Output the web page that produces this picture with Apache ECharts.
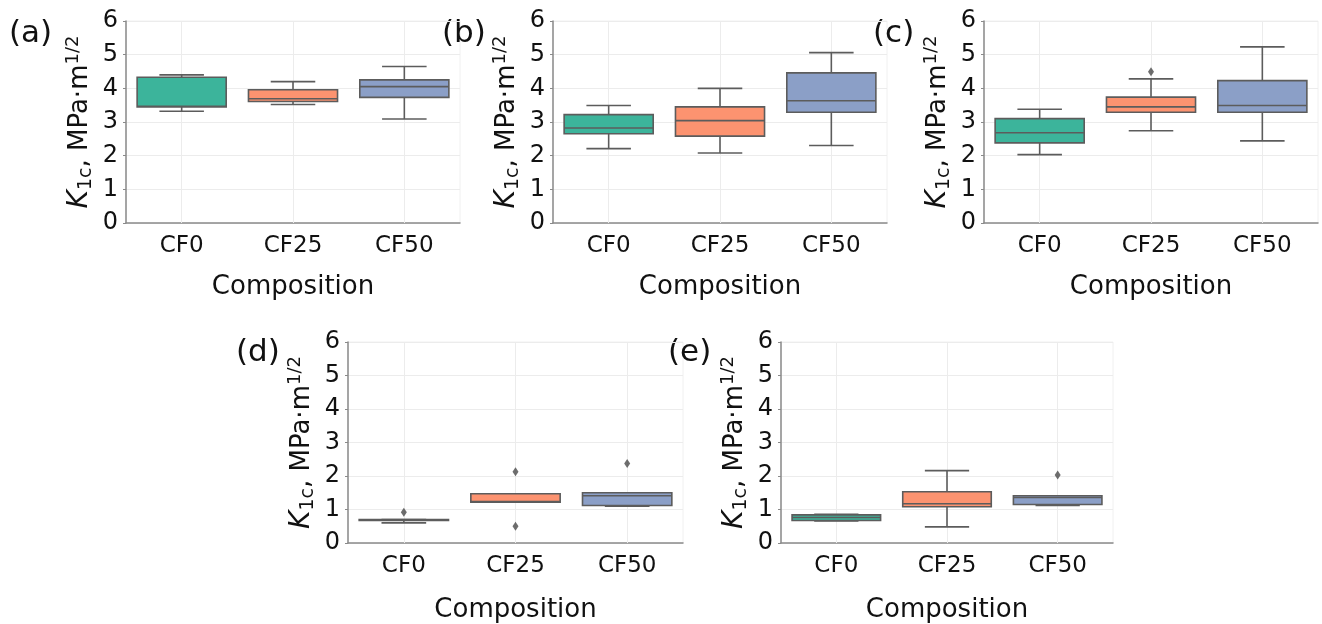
<!DOCTYPE html>
<html>
<head>
<meta charset="utf-8">
<script src="https://cdn.jsdelivr.net/npm/echarts@6/dist/echarts.min.js"></script>
<style>
  html, body { margin: 0; padding: 0; background: #fff; }
  #chart { width: 1322px; height: 624px; }
</style>
</head>
<body>
<div id="chart"></div>
<script>
// categories on every panel
const categories = ['CF0', 'CF25', 'CF50'];
const yTicks = [0, 1, 2, 3, 4, 5, 6];

// box stats per category: [low whisker, Q1, median, Q3, high whisker]
const boxA = [[3.32, 3.45, 3.47, 4.33, 4.40], [3.52, 3.61, 3.69, 3.96, 4.20], [3.09, 3.73, 4.05, 4.25, 4.65]];
const boxB = [[2.21, 2.65, 2.82, 3.22, 3.49], [2.08, 2.58, 3.04, 3.45, 4.00], [2.30, 3.29, 3.63, 4.46, 5.06]];
const boxC = [[2.03, 2.38, 2.68, 3.10, 3.38], [2.74, 3.29, 3.45, 3.74, 4.28], [2.44, 3.29, 3.49, 4.23, 5.23]];
const boxD = [[0.60, 0.67, 0.68, 0.70, 0.70], [1.22, 1.22, 1.24, 1.47, 1.47], [1.10, 1.12, 1.41, 1.50, 1.50]];
const boxE = [[0.66, 0.67, 0.76, 0.84, 0.86], [0.48, 1.08, 1.17, 1.53, 2.16], [1.12, 1.15, 1.36, 1.41, 1.41]];

// outliers: [category index, value]
const fliersA = [];
const fliersB = [];
const fliersC = [[1, 4.49]];
const fliersD = [[0, 0.92], [1, 2.13], [1, 0.50], [2, 2.37]];
const fliersE = [[2, 2.03]];

const panelNames = ['(a)', '(b)', '(c)', '(d)', '(e)'];
const boxColors = ['#3cb49b', '#fc9370', '#8b9fc7'];
const edge = '#5c5c5c';
const font = 'DejaVu Sans';

const boxes = [boxA, boxB, boxC, boxD, boxE];
const fliers = [fliersA, fliersB, fliersC, fliersD, fliersE];

// panel layout
const grids = [
  { left: 126, top: 21, width: 334, height: 202 },
  { left: 553, top: 21, width: 334, height: 202 },
  { left: 984, top: 21, width: 334, height: 202 },
  { left: 348, top: 342, width: 335, height: 201 },
  { left: 781, top: 342, width: 332, height: 201 }
];
const labelPos = [[9, 37], [442, 37], [873, 37], [236, 356], [668, 356]];

function renderBox(params, api) {
  const i = api.value(0);
  const low = api.coord([i, api.value(1)]);
  const q1 = api.coord([i, api.value(2)]);
  const med = api.coord([i, api.value(3)]);
  const q3 = api.coord([i, api.value(4)]);
  const high = api.coord([i, api.value(5)]);
  const band = api.size([1, 0])[0];
  const bw = band * 0.8, cw = bw * 0.5;
  const x = low[0];
  const ls = { stroke: edge, lineWidth: 1.6, fill: null };
  return {
    type: 'group',
    children: [
      { type: 'line', shape: { x1: x, y1: q3[1], x2: x, y2: high[1] }, style: ls },
      { type: 'line', shape: { x1: x, y1: q1[1], x2: x, y2: low[1] }, style: ls },
      { type: 'line', shape: { x1: x - cw / 2, y1: high[1], x2: x + cw / 2, y2: high[1] }, style: ls },
      { type: 'line', shape: { x1: x - cw / 2, y1: low[1], x2: x + cw / 2, y2: low[1] }, style: ls },
      { type: 'rect', shape: { x: x - bw / 2, y: q3[1], width: bw, height: Math.max(q1[1] - q3[1], 1) },
        style: { fill: boxColors[i], stroke: edge, lineWidth: 1.6 } },
      { type: 'line', shape: { x1: x - bw / 2, y1: med[1], x2: x + bw / 2, y2: med[1] }, style: ls }
    ]
  };
}

const option = {
  animation: false,
  backgroundColor: '#fff',
  textStyle: { fontFamily: font },
  grid: grids.map(g => Object.assign({ show: true, borderColor: '#f0f0f0', borderWidth: 1 }, g)),
  xAxis: grids.map((g, k) => ({
    type: 'category',
    gridIndex: k,
    data: categories,
    name: 'Composition',
    nameLocation: 'middle',
    nameGap: k < 3 ? 51 : 54,
    nameTextStyle: { fontSize: 26, color: '#111', fontFamily: font },
    axisLine: { lineStyle: { color: '#8a8a8a', width: 1.5 } },
    axisTick: { alignWithLabel: true, length: 4, lineStyle: { color: '#8a8a8a' } },
    axisLabel: { fontSize: 23, color: '#111', margin: 12, fontFamily: font },
    splitLine: { show: false }
  })),
  yAxis: grids.map((g, k) => ({
    type: 'value',
    gridIndex: k,
    min: 0, max: 6, interval: 1,
    name: '{k|K}{sub|1c}{t|, MPa·m}{sup|1/2}',
    nameLocation: 'middle',
    nameRotate: 90,
    nameGap: 30,
    nameTextStyle: {
      rich: {
        k: { fontSize: 28, fontStyle: 'italic', color: '#111', fontFamily: font, lineHeight: 32 },
        sub: { fontSize: 19, color: '#111', fontFamily: font, verticalAlign: 'bottom', lineHeight: 18 },
        t: { fontSize: 26, color: '#111', fontFamily: font, lineHeight: 32 },
        sup: { fontSize: 18, color: '#111', fontFamily: font, verticalAlign: 'top', lineHeight: 18 }
      }
    },
    axisLine: { show: true, lineStyle: { color: '#8a8a8a', width: 1.5 } },
    axisTick: { show: true, length: 3, lineStyle: { color: '#8a8a8a' } },
    axisLabel: { fontSize: 24, color: '#111', margin: 8, fontFamily: font,
      formatter: v => yTicks.indexOf(v) >= 0 ? String(v) : '' },
    splitLine: { lineStyle: { color: '#ececec' } }
  })),
  graphic: panelNames.map((t, k) => ({
    type: 'text',
    left: labelPos[k][0],
    top: labelPos[k][1] - 19,
    style: { text: t, fontSize: 31, fill: '#111', fontFamily: font }
  })),
  series: []
};

boxes.forEach((b, k) => {
  // vertical gridlines at category centres, kept under the boxes
  option.series.push({
    type: 'scatter',
    xAxisIndex: k,
    yAxisIndex: k,
    data: [],
    z: 1,
    silent: true,
    markLine: {
      z: 1,
      symbol: 'none',
      silent: true,
      label: { show: false },
      lineStyle: { color: '#ececec', type: 'solid', width: 1 },
      data: categories.map(c => ({ xAxis: c }))
    }
  });
  option.series.push({
    type: 'custom',
    xAxisIndex: k,
    yAxisIndex: k,
    renderItem: renderBox,
    encode: { x: 0, y: [1, 2, 3, 4, 5] },
    data: b.map((s, i) => [i].concat(s)),
    z: 3
  });
  option.series.push({
    type: 'scatter',
    xAxisIndex: k,
    yAxisIndex: k,
    symbol: 'diamond',
    symbolSize: [6, 9],
    itemStyle: { color: '#4a4a4a' },
    data: fliers[k],
    z: 4
  });
});

var myChart = echarts.init(document.getElementById('chart'));
myChart.setOption(option);
window.addEventListener('resize', function () {
  myChart.resize();
});
</script>
</body>
</html>
